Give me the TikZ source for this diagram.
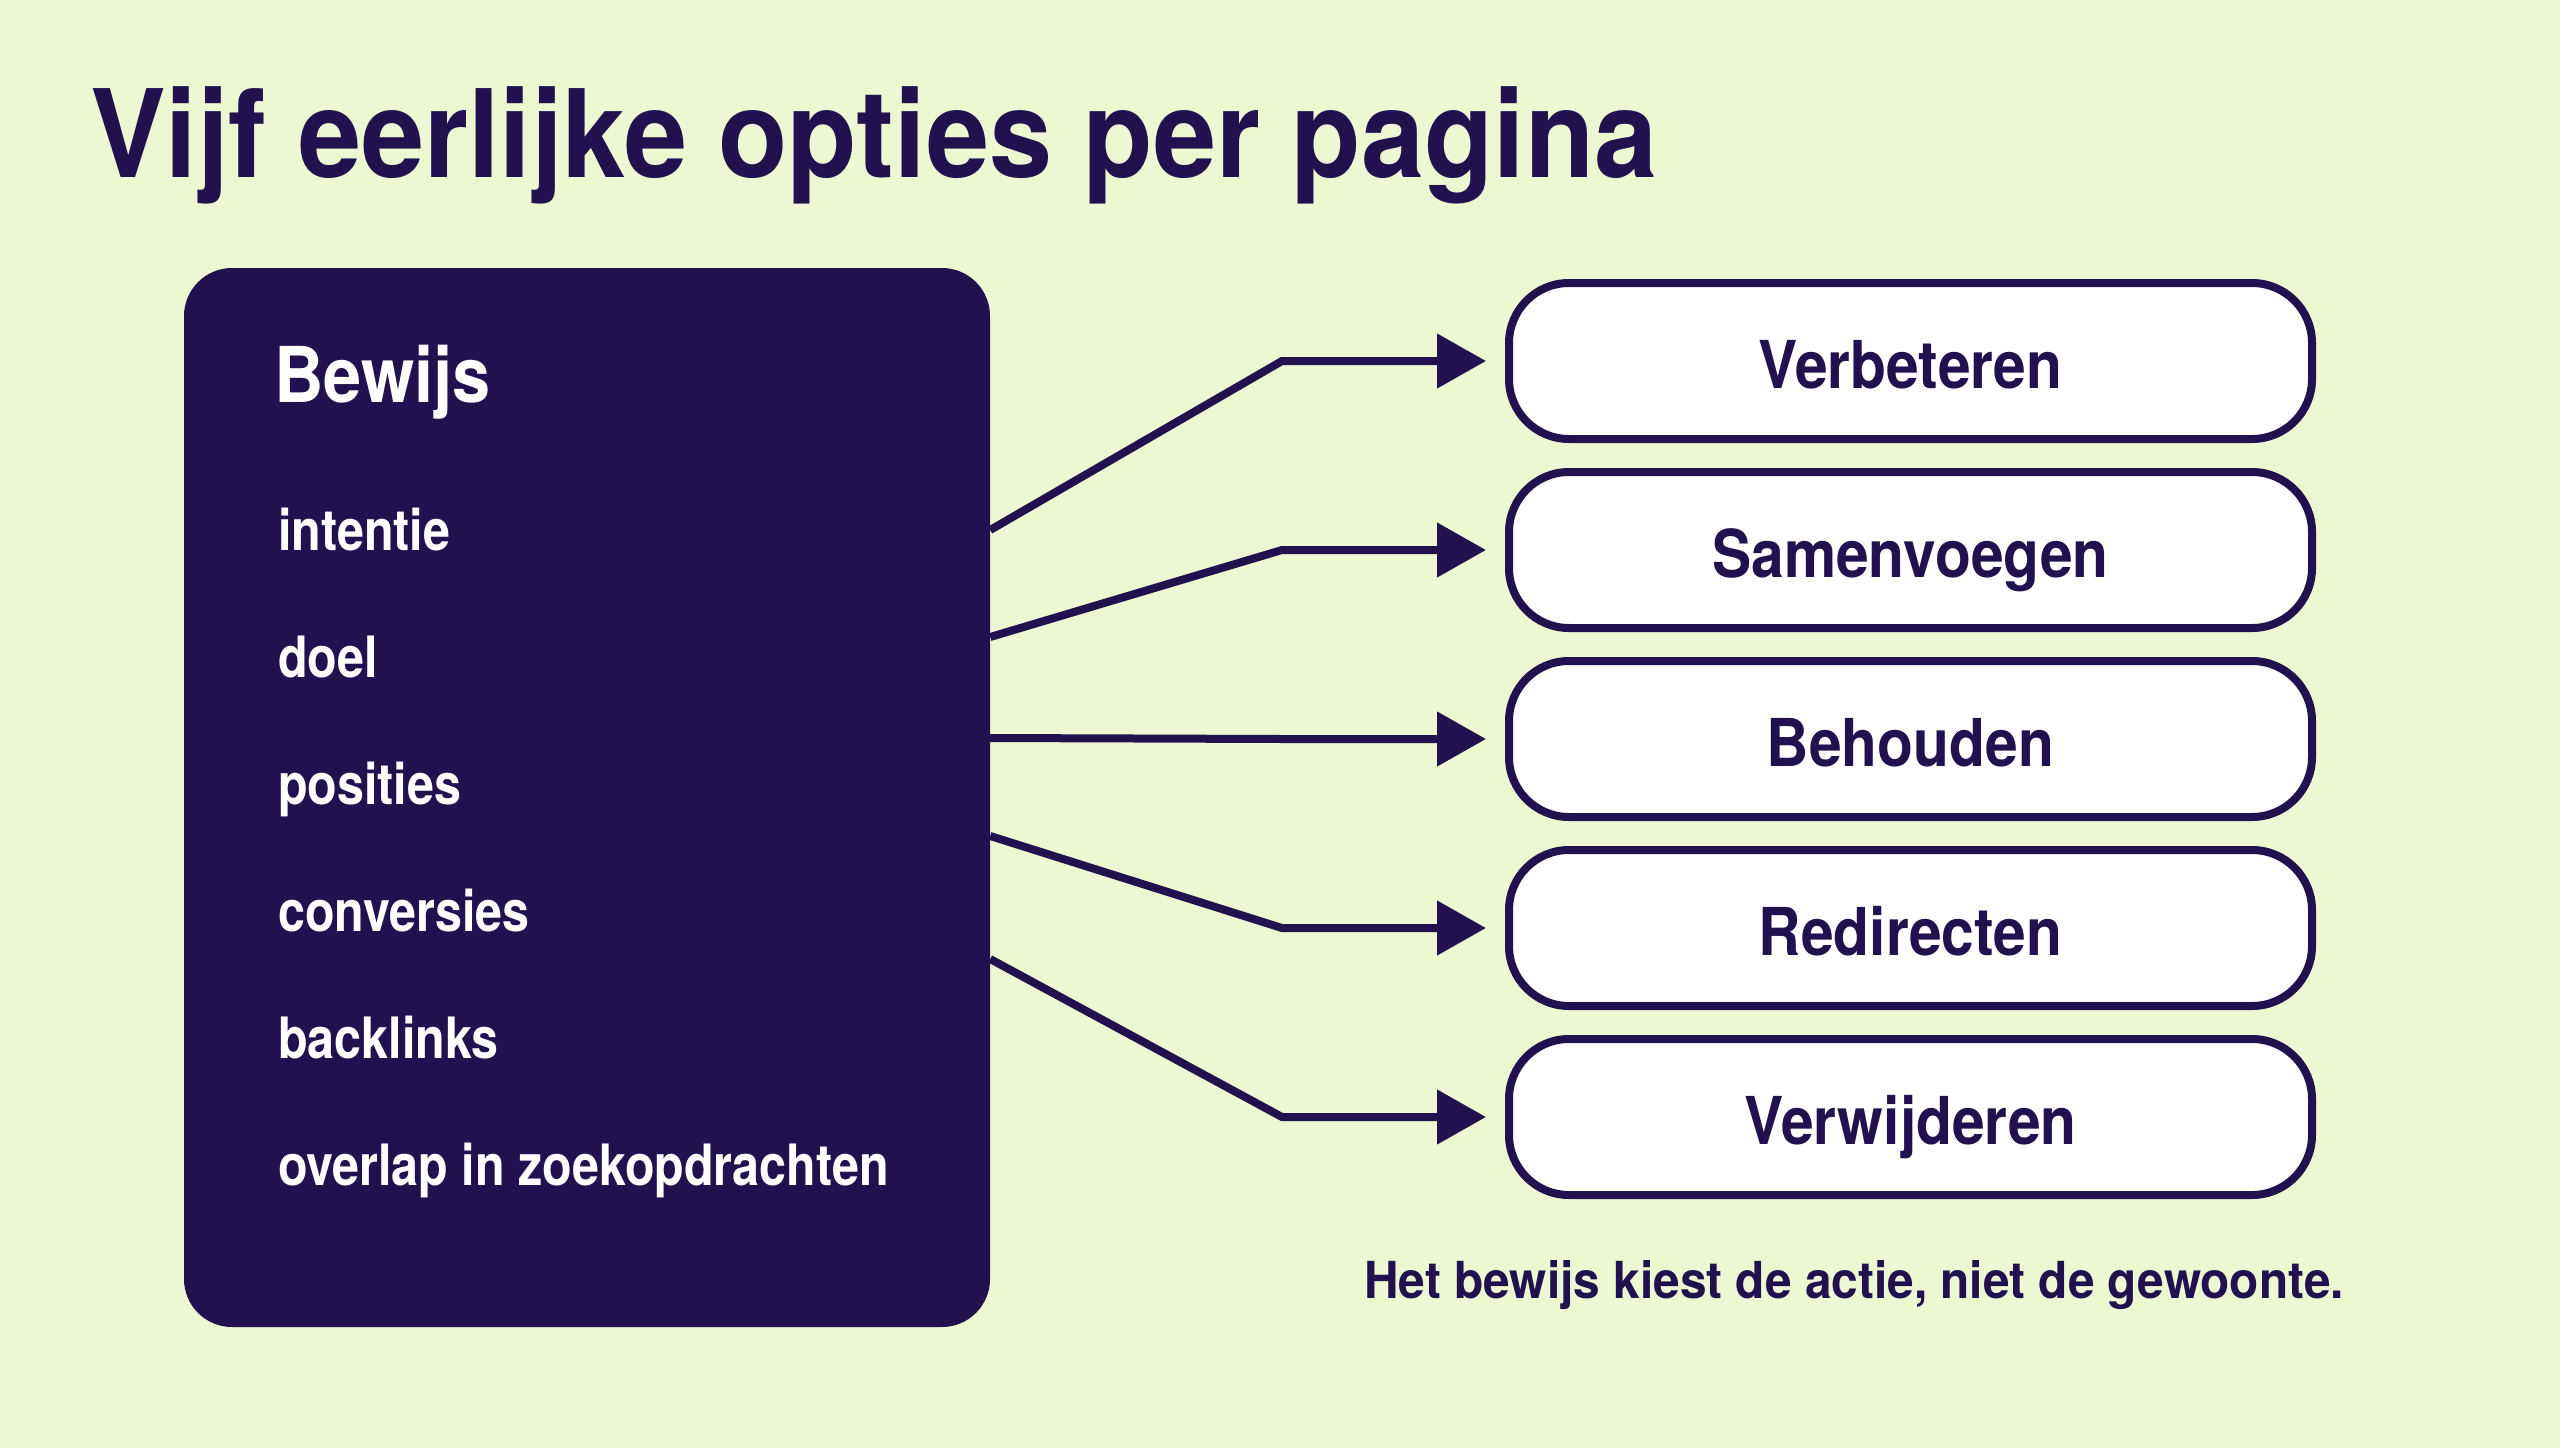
\documentclass[tikz,border=0pt]{standalone}
\usepackage{fontspec}
\usetikzlibrary{arrows.meta}
\newfontfamily\titlef{TeX Gyre Heros}[FakeStretch=0.93]
\newfontfamily\boxf{TeX Gyre Heros}[FakeStretch=0.89]
\newfontfamily\itemf{TeX Gyre Heros}[FakeStretch=0.85]
\newfontfamily\footf{TeX Gyre Heros}[FakeStretch=0.938]
\definecolor{navy}{HTML}{21114F}
\definecolor{bg}{HTML}{EDF8D3}
\tikzset{
  optbox/.style={draw=navy, line width=8pt, fill=white, rounded corners=60pt,
    minimum width=803pt, minimum height=156pt, inner sep=0pt, text=navy,
    font=\boxf\bfseries\fontsize{66}{70}\selectfont, text height=55pt, text depth=0pt},
  itemtext/.style={anchor=base west, inner sep=0pt, text=white,
    font=\itemf\bfseries\fontsize{57}{62}\selectfont},
  conn/.style={draw=navy, line width=8pt, -{Triangle[length=49pt,width=53pt]}, shorten >=19pt}
}
\begin{document}
\begin{tikzpicture}[x=1pt,y=-1pt]
\fill[bg] (0,0) rectangle (2560,1448);
\useasboundingbox (0,0) rectangle (2560,1448);
\node[anchor=base west, inner sep=0pt, text=navy,
  font=\titlef\bfseries\fontsize{122}{130}\selectfont] (title) at (90,177) {Vijf eerlijke opties per pagina};
\node[fill=navy, draw=none, rounded corners=48pt, minimum width=806pt, minimum height=1059pt, inner sep=0pt] (ev) at (587,797.5) {};
\node[anchor=base west, inner sep=0pt, text=white,
  font=\boxf\bfseries\fontsize{77}{82}\selectfont] (bew) at (274,402) {Bewijs};
\node[itemtext] (i1) at (278,550) {intentie};
\node[itemtext] (i2) at (278,677) {doel};
\node[itemtext] (i3) at (278,804) {posities};
\node[itemtext] (i4) at (278,931) {conversies};
\node[itemtext] (i5) at (278,1058) {backlinks};
\node[itemtext] (i6) at (278,1185) {overlap in zoekopdrachten};
\node[optbox] (b1) at (1910.5,361) {Verbeteren};
\node[optbox] (b2) at (1910.5,550) {Samenvoegen};
\node[optbox] (b3) at (1910.5,739) {Behouden};
\node[optbox] (b4) at (1910.5,928) {Redirecten};
\node[optbox] (b5) at (1910.5,1117) {Verwijderen};
\draw[conn] (ev.east |- 0,530) -- (1282,0 |- b1.west) -- (b1.west);
\draw[conn] (ev.east |- 0,637) -- (1282,0 |- b2.west) -- (b2.west);
\draw[conn] (ev.east |- 0,738) -- (1282,0 |- b3.west) -- (b3.west);
\draw[conn] (ev.east |- 0,836) -- (1282,0 |- b4.west) -- (b4.west);
\draw[conn] (ev.east |- 0,959) -- (1282,0 |- b5.west) -- (b5.west);
\node[anchor=base west, inner sep=0pt, text=navy,
  font=\footf\bfseries\fontsize{51}{56}\selectfont] (foot) at (1364,1298) {Het bewijs kiest de actie, niet de gewoonte.};
\end{tikzpicture}
\end{document}
